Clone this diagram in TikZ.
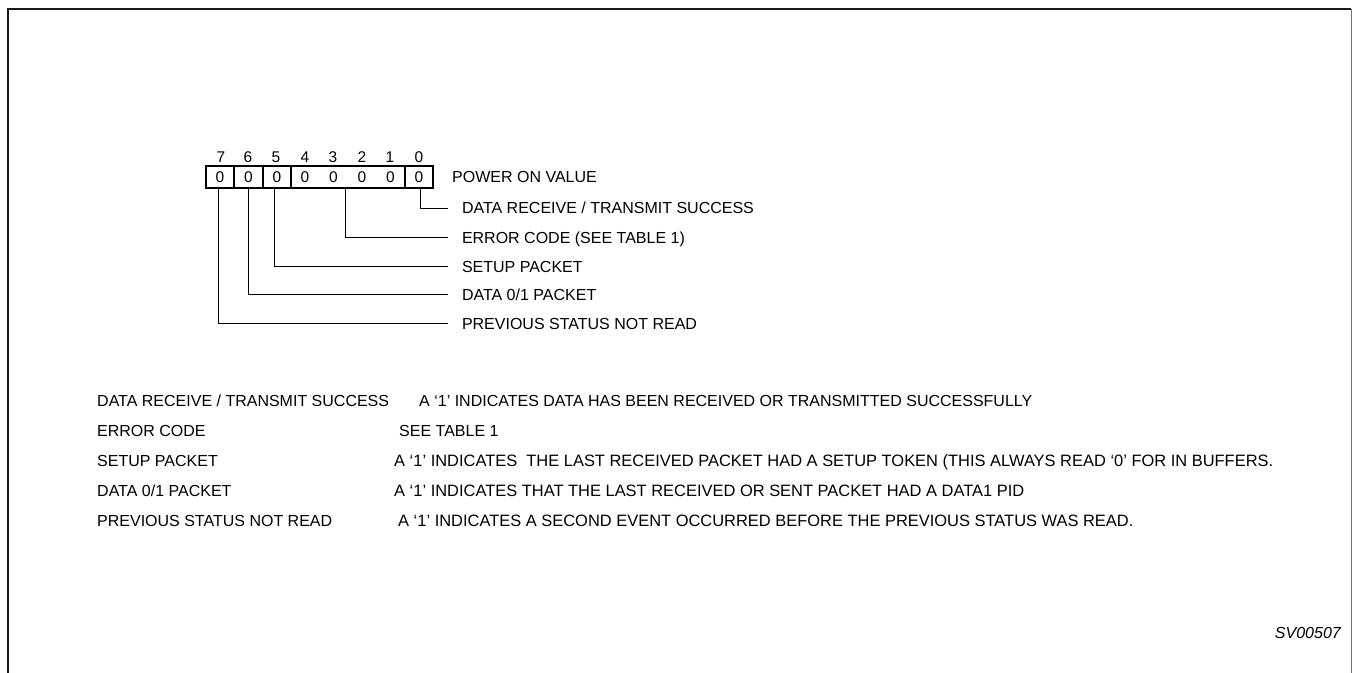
\documentclass[tikz,border=0pt]{standalone}
\usepackage{fontspec}
\setmainfont{Liberation Sans}
\begin{document}
\begin{tikzpicture}[x=1bp,y=-1bp,
  txt/.style={font=\fontsize{16bp}{19bp}\selectfont},
  wtxt/.style={font=\fontsize{16.45bp}{19bp}\selectfont},
  dig/.style={font=\fontsize{15.5bp}{18bp}\selectfont, inner sep=0pt, anchor=center},
  cell/.style={draw, line width=1.6bp, minimum height=22bp, inner sep=0pt, anchor=center, dig},
  lbl/.style={txt, anchor=west, text height=11.5bp, text depth=0pt, inner ysep=0pt, inner xsep=14bp, outer sep=0pt},
  row/.style={txt, anchor=west, text height=11.5bp, text depth=0pt, inner sep=0pt},
  wrow/.style={row, wtxt},
  conn/.style={line width=0.9bp}]
\useasboundingbox (0,0) rectangle (1352,673);
% frame
\coordinate (ftl) at (8,9);
\coordinate (ftr) at (1351,9);
\coordinate (fbl) at (8,673);
\coordinate (fbr) at (1351,673);
\draw[line width=0.8bp, black!55] (ftr) -- (fbr);
\draw[line width=2bp, black!90] (fbl) -- (ftl) -- (ftr);
% register cells
\node[cell, minimum width=28bp] (c7) at (220,177) {0};
\node[cell, minimum width=29bp] (c6) at (248.5,177) {0};
\node[cell, minimum width=28bp] (c5) at (277,177) {0};
\node[cell, minimum width=114bp] (c41) at (348,177) {};
\node[cell, minimum width=28bp] (c0) at (419,177) {0};
\node[dig] (v4) at (305,177) {0};
\node[dig] (v3) at (333.5,177) {0};
\node[dig] (v2) at (362,177) {0};
\node[dig] (v1) at (390.5,177) {0};
% bit numbers
\node[dig] (n7) at (221,157.5) {7};
\node[dig] (n6) at (248,157.5) {6};
\node[dig] (n5) at (276,157.5) {5};
\node[dig] (n4) at (305,157.5) {4};
\node[dig] (n3) at (333,157.5) {3};
\node[dig] (n2) at (362,157.5) {2};
\node[dig] (n1) at (390,157.5) {1};
\node[dig] (n0) at (419,157.5) {0};
% labels
\node[row] (pov) at (452,177) {POWER ON VALUE};
\node[lbl] (l0) at (448,208) {DATA RECEIVE / TRANSMIT SUCCESS};
\node[lbl] (l41) at (448,237.5) {ERROR CODE (SEE TABLE 1)};
\node[lbl] (l5) at (448,266.5) {SETUP PACKET};
\node[lbl] (l6) at (448,294.5) {DATA 0/1 PACKET};
\node[lbl] (l7) at (448,323.5) {PREVIOUS STATUS NOT READ};
% connectors
\draw[conn] ([xshift=1bp]c0.south) |- (l0.west);
\draw[conn] ([xshift=-3bp]c41.south) |- (l41.west);
\draw[conn] ([xshift=-3bp]c5.south) |- (l5.west);
\draw[conn] ([xshift=-0.5bp]c6.south) |- (l6.west);
\draw[conn] ([xshift=-2bp]c7.south) |- (l7.west);
% table
\node[row] (t1a) at (97,401) {DATA RECEIVE / TRANSMIT SUCCESS};
\node[row] (t1b) at (419,401) {A ‘1’ INDICATES DATA HAS BEEN RECEIVED OR TRANSMITTED SUCCESSFULLY};
\node[row] (t2a) at (97,431) {ERROR CODE};
\node[row] (t2b) at (399,431) {SEE TABLE 1};
\node[row] (t3a) at (97,461) {SETUP PACKET};
\node[wrow] (t3b) at (394,461) {A ‘1’ INDICATES\ \ THE LAST RECEIVED PACKET HAD A SETUP TOKEN (THIS ALWAYS READ ‘0’ FOR IN BUFFERS.};
\node[row] (t4a) at (97,491) {DATA 0/1 PACKET};
\node[wrow] (t4b) at (394,491) {A ‘1’ INDICATES THAT THE LAST RECEIVED OR SENT PACKET HAD A DATA1 PID};
\node[row] (t5a) at (97,521) {PREVIOUS STATUS NOT READ};
\node[wrow] (t5b) at (398,521) {A ‘1’ INDICATES A SECOND EVENT OCCURRED BEFORE THE PREVIOUS STATUS WAS READ.};
% figure id
\node[txt, anchor=east, inner sep=0pt, font=\fontsize{16bp}{19bp}\selectfont\itshape] (sv) at (1341,633) {SV00507};
\end{tikzpicture}
\end{document}
